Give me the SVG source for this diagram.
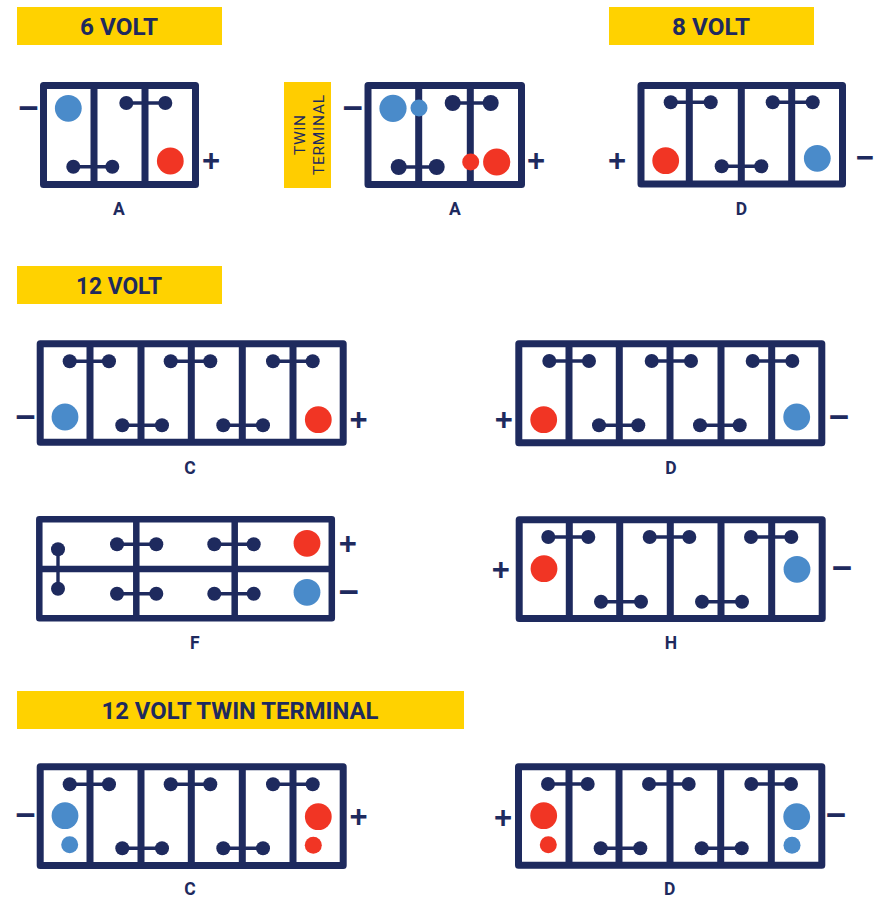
<svg xmlns="http://www.w3.org/2000/svg" width="874" height="899" viewBox="0 0 874 899">
<style>
.bar{fill:#ffd200}
.hd{font:700 23px Roboto,"Liberation Sans",sans-serif;fill:#1e2a5e;text-anchor:middle}
.lb{font:700 17.5px Roboto,"Liberation Sans",sans-serif;fill:#1e2a5e;text-anchor:middle}
.tw{font:400 15.5px Roboto,"Liberation Sans",sans-serif;fill:#1e2a5e;text-anchor:middle}
.sg{font:700 31px "Liberation Sans",sans-serif;fill:#1e2a5e;text-anchor:middle}
.mn{font-size:35px}
.fr{fill:#fff;stroke:#1e2a5e;stroke-width:7;stroke-linejoin:round}
.dv{fill:none;stroke:#1e2a5e;stroke-width:7}
.lk{fill:none;stroke:#1e2a5e;stroke-width:3.4;marker-start:url(#dot);marker-end:url(#dot)}
.lg{marker-start:url(#dot8);marker-end:url(#dot8)}
.b{fill:#4a8bca}
.r{fill:#f13524}
</style>
<defs>
<marker id="dot" markerUnits="userSpaceOnUse" markerWidth="16" markerHeight="16" viewBox="-8 -8 16 16" refX="0" refY="0" orient="0"><circle r="7" fill="#1e2a5e"/></marker>
<marker id="dot8" markerUnits="userSpaceOnUse" markerWidth="18" markerHeight="18" viewBox="-9 -9 18 18" refX="0" refY="0" orient="0"><circle r="8" fill="#1e2a5e"/></marker>
</defs>

<g id="header-6v"><rect class="bar" x="17" y="7" width="205" height="38"/><text class="hd" x="119" y="35" textLength="78" lengthAdjust="spacingAndGlyphs">6 VOLT</text></g>
<g id="header-8v"><rect class="bar" x="609" y="7" width="205" height="38"/><text class="hd" x="711" y="35" textLength="78" lengthAdjust="spacingAndGlyphs">8 VOLT</text></g>
<g id="header-12v"><rect class="bar" x="17" y="266" width="205" height="38"/><text class="hd" x="119" y="294" textLength="86" lengthAdjust="spacingAndGlyphs">12 VOLT</text></g>
<g id="header-12v-twin"><rect class="bar" x="17" y="691" width="447" height="38"/><text class="hd" x="240" y="719" textLength="277" lengthAdjust="spacingAndGlyphs">12 VOLT TWIN TERMINAL</text></g>
<g id="tag-twin"><rect x="284" y="82" width="47" height="106" fill="#ffcd00"/>
<text class="tw" transform="translate(305 135) rotate(-90)" textLength="40">TWIN</text>
<text class="tw" transform="translate(324 135) rotate(-90)" textLength="80">TERMINAL</text></g>

<g id="battery-6v-a">
<rect class="fr" x="43.5" y="85.5" width="152" height="99"/>
<path class="dv" d="M94 85V185M145 85V185"/>
<circle class="b" cx="68.3" cy="108.3" r="13.4"/><circle class="r" cx="170.3" cy="161" r="13.4"/>
<text class="sg mn" x="28.5" y="120">−</text><text class="sg" x="211" y="171">+</text>
<text class="lb" x="119" y="215">A</text>
</g>
<g id="battery-6v-twin-a">
<rect class="fr" x="368" y="85.5" width="153.5" height="99"/>
<path class="dv" d="M418.7 85V185M470.3 85V185"/>
<circle class="b" cx="393" cy="108.3" r="13.6"/><circle class="b" cx="419" cy="108" r="8.5"/>
<circle class="r" cx="470.7" cy="162" r="8.5"/><circle class="r" cx="496.7" cy="162" r="13.6"/>
<text class="sg mn" x="352.7" y="119.5">−</text><text class="sg" x="536" y="171">+</text>
<text class="lb" x="455" y="215">A</text>
</g>
<g id="battery-8v-d">
<rect class="fr" x="641" y="85.5" width="201.5" height="98.5"/>
<path class="dv" d="M689.3 85V185M741.3 85V185M791.7 85V185"/>
<circle class="r" cx="665.7" cy="160.7" r="13.4"/><circle class="b" cx="817.3" cy="158.3" r="13.4"/>
<text class="sg" x="617" y="171">+</text><text class="sg" x="864.8" y="168">−</text>
<text class="lb" x="741.5" y="215">D</text>
</g>
<g id="battery-12v-c">
<rect class="fr" x="40.2" y="343.8" width="303" height="98.5"/>
<path class="dv" d="M90 344V442M141 344V442M191.3 344V442M242.3 344V442M293 344V442"/>
<circle class="b" cx="65" cy="417" r="13.4"/><circle class="r" cx="318.3" cy="419.7" r="13.4"/>
<text class="sg mn" x="25.5" y="428.5">−</text><text class="sg" x="358.5" y="430">+</text>
<text class="lb" x="190" y="473.5">C</text>
</g>
<g id="battery-12v-d">
<rect class="fr" x="518.8" y="343.8" width="303" height="99"/>
<path class="dv" d="M569 344V442M619.3 344V442M670 344V442M721 344V442M771.7 344V442"/>
<circle class="r" cx="543.7" cy="419.7" r="13.4"/><circle class="b" cx="796.7" cy="417" r="13.4"/>
<text class="sg" x="503.7" y="430">+</text><text class="sg mn" x="839" y="428.5">−</text>
<text class="lb" x="671" y="473.5">D</text>
</g>
<g id="battery-12v-f">
<rect class="fr" x="39.3" y="519.3" width="292.5" height="99" style="stroke-width:6.5"/>
<path class="dv" style="stroke-width:6.5" d="M39 569H332M136.3 519V618M234.7 519V618"/>
<circle class="r" cx="307" cy="543.3" r="13.4"/><circle class="b" cx="307" cy="592.3" r="13.4"/>
<text class="sg" x="347.7" y="554">+</text><text class="sg mn" x="348.7" y="604">−</text>
<text class="lb" x="194.7" y="649">F</text>
</g>
<g id="battery-12v-h">
<rect class="fr" x="519.2" y="519.8" width="303" height="98.7"/>
<path class="dv" d="M569.3 520V618M619.7 520V618M670.3 520V618M721 520V618M771.7 520V618"/>
<circle class="r" cx="544" cy="568.7" r="13.4"/><circle class="b" cx="797" cy="569.3" r="13.4"/>
<text class="sg" x="500.7" y="579.5">+</text><text class="sg mn" x="842" y="580">−</text>
<text class="lb" x="671" y="649">H</text>
</g>
<g id="battery-12v-twin-c">
<rect class="fr" x="40.2" y="766.8" width="303" height="98.7"/>
<path class="dv" d="M90 767V866M141 767V866M191.3 767V866M242.3 767V866M293 767V866"/>
<circle class="b" cx="65" cy="815.7" r="13.4"/><circle class="b" cx="69.7" cy="844.7" r="8.5"/>
<circle class="r" cx="318.3" cy="816.7" r="13.4"/><circle class="r" cx="313.3" cy="845.3" r="8.5"/>
<text class="sg mn" x="25.5" y="827">−</text><text class="sg" x="358.5" y="827">+</text>
<text class="lb" x="190" y="895">C</text>
</g>
<g id="battery-12v-twin-d">
<rect class="fr" x="518.5" y="766.8" width="303.3" height="98.4"/>
<path class="dv" d="M569 767V866M619 767V866M670 767V866M720.7 767V866M771.3 767V866"/>
<circle class="r" cx="543.7" cy="815.7" r="13.4"/><circle class="r" cx="548.3" cy="844.7" r="8.5"/>
<circle class="b" cx="796.7" cy="816.7" r="13.4"/><circle class="b" cx="792" cy="845.3" r="8.5"/>
<text class="sg" x="503" y="827.5">+</text><text class="sg mn" x="836" y="827">−</text>
<text class="lb" x="669.7" y="895">D</text>
</g>

<g id="connectors">
<path class="lk" d="M126.3 103H165.3"/><path class="lk" d="M73.3 166.7H112.3"/>
<path class="lk lg" d="M452.7 103H490.7"/><path class="lk lg" d="M398.7 167H436.7"/>
<path class="lk" d="M670.7 102.3H710.7"/><path class="lk" d="M772.7 102.3H812.7"/><path class="lk" d="M721.7 166.3H761.3"/>
<path class="lk" d="M69.7 361.3H109"/><path class="lk" d="M170.7 361.3H210.3"/><path class="lk" d="M273 361.3H312.7"/><path class="lk" d="M122.3 425.3H162"/><path class="lk" d="M223.3 425.3H263"/>
<path class="lk" d="M549.3 361H589"/><path class="lk" d="M651.7 361H691"/><path class="lk" d="M752.7 361H792.3"/><path class="lk" d="M599 425.3H638.3"/><path class="lk" d="M700 425.3H739.7"/>
<path class="lk" d="M58 549.3V588.7"/><path class="lk" d="M117 544.3H156.3"/><path class="lk" d="M214.3 544.3H253.7"/><path class="lk" d="M117 593.7H156.3"/><path class="lk" d="M214.3 593.7H253.7"/>
<path class="lk" d="M548.3 537H588.3"/><path class="lk" d="M649.7 537H689.3"/><path class="lk" d="M751 537H791.3"/><path class="lk" d="M601 601.7H641"/><path class="lk" d="M702 601.7H742"/>
<path class="lk" d="M69.7 784.3H109"/><path class="lk" d="M170.7 784.3H210.3"/><path class="lk" d="M273 784.3H312.7"/><path class="lk" d="M122.3 848.3H162"/><path class="lk" d="M223.3 848.3H263"/>
<path class="lk" d="M548 784H587.7"/><path class="lk" d="M649 784H688.7"/><path class="lk" d="M751.3 784H791"/><path class="lk" d="M600.7 848.3H640.3"/><path class="lk" d="M701.7 848.3H741.7"/>
</g>
</svg>
